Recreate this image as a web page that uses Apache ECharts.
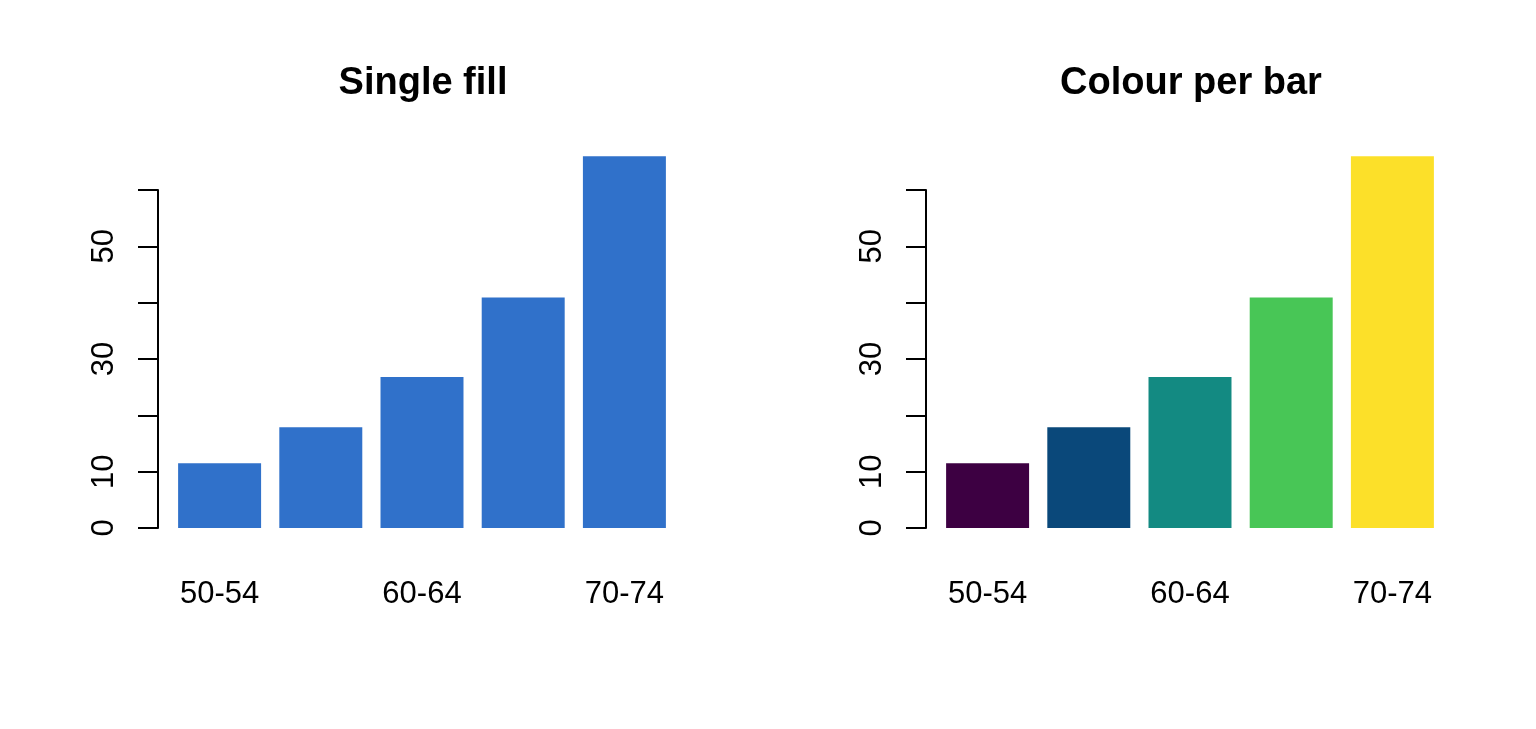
<!DOCTYPE html>
<html>
<head>
<meta charset="utf-8">
<script src="https://cdn.jsdelivr.net/npm/echarts@6/dist/echarts.min.js"></script>
<style>
  html, body { margin: 0; padding: 0; background: #fff; }
  #chart { width: 1536px; height: 729px; }
</style>
</head>
<body>
<div id="chart"></div>
<script>
// age groups and death rates (rural males)
const categories = ['50-54', '55-59', '60-64', '65-69', '70-74'];
const values = [11.5, 17.9, 26.8, 40.9, 66.0];
const yTicks = [0, 10, 20, 30, 40, 50, 60];
const yLabelsShown = [0, 10, 30, 50];
const singleColour = '#3071CA';
const barColours = ['#3D0042', '#0A487A', '#138A82', '#48C656', '#FCE029'];
const titles = ['Single fill', 'Colour per bar'];

const font = '"Liberation Sans", Arial, Helvetica, sans-serif';
const panelShift = 768;

const chart = echarts.init(document.getElementById('chart'));

function makeGrid(i) {
    return {
        left: 169 + i * panelShift,
        width: 506,
        top: 190,
        bottom: 201,
        outerBoundsMode: 'none'
    };
}

function makeXAxis(i) {
    return {
        type: 'category',
        gridIndex: i,
        data: categories,
        boundaryGap: true,
        axisLine: { show: false },
        axisTick: { show: false },
        axisLabel: {
            interval: 1,
            margin: 51,
            color: '#000',
            fontSize: 31,
            fontFamily: font
        }
    };
}

function makeYAxis(i) {
    return {
        type: 'value',
        gridIndex: i,
        min: yTicks[0],
        max: yTicks[yTicks.length - 1],
        interval: 10,
        offset: 11,
        splitLine: { show: false },
        axisLine: { show: true, lineStyle: { color: '#000', width: 2 } },
        axisTick: { show: true, length: 20, lineStyle: { color: '#000', width: 2 } },
        axisLabel: {
            rotate: 90,
            margin: 38,
            color: '#000',
            fontSize: 31,
            fontFamily: font,
            formatter: v => yLabelsShown.includes(v) ? String(v) : ''
        }
    };
}

const option = {
    animation: false,
    backgroundColor: '#fff',
    title: titles.map((t, i) => ({
        text: t,
        left: 418 + i * panelShift,
        textAlign: 'center',
        top: 60,
        textStyle: { fontSize: 38, fontWeight: 'bold', color: '#000', fontFamily: font }
    })),
    grid: [makeGrid(0), makeGrid(1)],
    xAxis: [makeXAxis(0), makeXAxis(1)],
    yAxis: [makeYAxis(0), makeYAxis(1)],
    series: [
        {
            type: 'bar',
            xAxisIndex: 0,
            yAxisIndex: 0,
            clip: false,
            barCategoryGap: '18%',
            itemStyle: { color: singleColour },
            data: values
        },
        {
            type: 'bar',
            xAxisIndex: 1,
            yAxisIndex: 1,
            clip: false,
            barCategoryGap: '18%',
            data: values.map((v, k) => ({ value: v, itemStyle: { color: barColours[k] } }))
        }
    ]
};

chart.setOption(option);
</script>
</body>
</html>
